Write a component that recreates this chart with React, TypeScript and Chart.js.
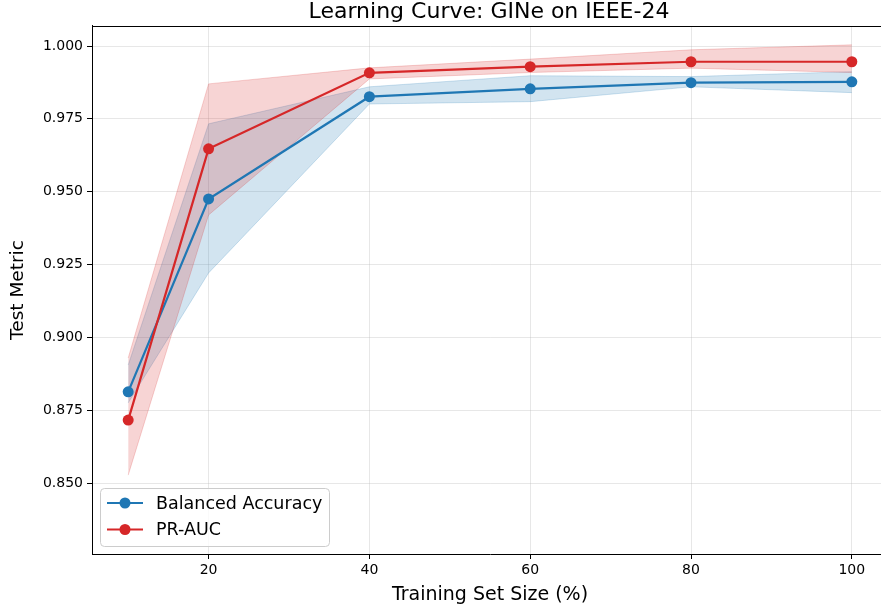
import { useEffect, useRef } from "react";
import { Chart, registerables } from "chart.js";

Chart.register(...registerables);

// Training set fractions (%)
const TRAIN_SIZES = [10, 20, 40, 60, 80, 100];

// Balanced accuracy: mean and band edges
const BAL_ACC_MEAN = [0.8813, 0.9475, 0.9826, 0.9853, 0.9874, 0.9877];
const BAL_ACC_LOW = [0.8775, 0.9221, 0.9801, 0.9809, 0.986, 0.984];
const BAL_ACC_HIGH = [0.8905, 0.9733, 0.986, 0.9898, 0.9895, 0.9912];

// PR-AUC: mean and band edges
const PR_AUC_MEAN = [0.8716, 0.9647, 0.9908, 0.9929, 0.9946, 0.9946];
const PR_AUC_LOW = [0.8527, 0.942, 0.9887, 0.9909, 0.9924, 0.9909];
const PR_AUC_HIGH = [0.8929, 0.987, 0.9925, 0.9955, 0.9987, 1.0004];

const X_TICKS = [20, 40, 60, 80, 100];
const Y_TICKS = [0.85, 0.875, 0.9, 0.925, 0.95, 0.975, 1.0];

const SERIES_NAMES = ["Balanced Accuracy", "PR-AUC"];

const BLUE = "#1f77b4";
const RED = "#d62728";
const BLUE_BAND = "rgba(31,119,180,0.2)";
const RED_BAND = "rgba(214,39,40,0.2)";
const FONT = "'DejaVu Sans', sans-serif";

const toPoints = (ys: number[]) => TRAIN_SIZES.map((x, i) => ({ x, y: ys[i] }));

// Top/right spines around the plotting area
const framePlugin = {
  id: "frame",
  afterDraw(chart: any) {
    const { ctx, chartArea } = chart;
    ctx.save();
    ctx.strokeStyle = "#000";
    ctx.lineWidth = 1;
    ctx.beginPath();
    ctx.moveTo(chartArea.left, chartArea.top + 0.5);
    ctx.lineTo(chartArea.right, chartArea.top + 0.5);
    ctx.moveTo(chartArea.right + 0.5, chartArea.top);
    ctx.lineTo(chartArea.right + 0.5, chartArea.bottom);
    ctx.stroke();
    ctx.restore();
  },
};

// Legend box in the lower-left corner of the plot
const innerLegendPlugin = {
  id: "innerLegend",
  afterDraw(chart: any) {
    const { ctx, chartArea } = chart;
    const x = chartArea.left + 8;
    const w = 229;
    const h = 58;
    const y = chartArea.bottom - 8 - h;
    ctx.save();
    ctx.beginPath();
    ctx.roundRect(x + 0.5, y + 0.5, w, h, 4);
    ctx.fillStyle = "rgba(255,255,255,0.8)";
    ctx.fill();
    ctx.strokeStyle = "#cccccc";
    ctx.lineWidth = 1;
    ctx.stroke();
    const colors = [BLUE, RED];
    SERIES_NAMES.forEach((name, i) => {
      const cy = y + 15 + i * 26.5;
      ctx.strokeStyle = colors[i];
      ctx.lineWidth = 2.2;
      ctx.beginPath();
      ctx.moveTo(x + 7, cy);
      ctx.lineTo(x + 43, cy);
      ctx.stroke();
      ctx.fillStyle = colors[i];
      ctx.beginPath();
      ctx.arc(x + 25, cy, 5.5, 0, Math.PI * 2);
      ctx.fill();
      ctx.fillStyle = "#000";
      ctx.font = `17.5px ${FONT}`;
      ctx.textBaseline = "middle";
      ctx.textAlign = "left";
      ctx.fillText(name, x + 56, cy + 1);
    });
    ctx.restore();
  },
};

export default function App() {
  const canvasRef = useRef<HTMLCanvasElement | null>(null);

  useEffect(() => {
    if (!canvasRef.current) return;
    const bandLine = (color: string) => ({
      borderColor: color,
      borderWidth: 1,
      pointRadius: 0,
      pointHoverRadius: 0,
      tension: 0,
    });
    const meanLine = (color: string) => ({
      borderColor: color,
      backgroundColor: color,
      borderWidth: 2.2,
      pointRadius: 5.5,
      pointBorderWidth: 0,
      fill: false,
      tension: 0,
    });
    const chart = new Chart(canvasRef.current, {
      type: "line",
      data: {
        datasets: [
          { label: "bal-low", data: toPoints(BAL_ACC_LOW), ...bandLine(BLUE_BAND), fill: false, order: 10 },
          {
            label: "bal-high",
            data: toPoints(BAL_ACC_HIGH),
            ...bandLine(BLUE_BAND),
            backgroundColor: BLUE_BAND,
            fill: "-1",
            order: 9,
          },
          { label: "pr-low", data: toPoints(PR_AUC_LOW), ...bandLine(RED_BAND), fill: false, order: 8 },
          {
            label: "pr-high",
            data: toPoints(PR_AUC_HIGH),
            ...bandLine(RED_BAND),
            backgroundColor: RED_BAND,
            fill: "-1",
            order: 7,
          },
          { label: SERIES_NAMES[0], data: toPoints(BAL_ACC_MEAN), ...meanLine(BLUE), order: 2 },
          { label: SERIES_NAMES[1], data: toPoints(PR_AUC_MEAN), ...meanLine(RED), order: 1 },
        ],
      },
      options: {
        animation: false,
        responsive: false,
        devicePixelRatio: 1,
        layout: { padding: 0 },
        plugins: {
          legend: { display: false },
          tooltip: { enabled: false },
          title: {
            display: true,
            text: "Learning Curve: GINe on IEEE-24",
            color: "#000",
            font: { family: FONT, size: 22, weight: "normal", lineHeight: 1.15 },
            padding: { top: 0, bottom: 0.7 },
          },
        },
        scales: {
          x: {
            type: "linear",
            min: 5.5,
            max: 104.5,
            afterBuildTicks: (scale: any) => {
              scale.ticks = X_TICKS.map((v) => ({ value: v }));
            },
            afterFit: (scale: any) => {
              scale.height = 57;
            },
            ticks: {
              color: "#000",
              font: { family: FONT, size: 14 },
              padding: 3,
              maxRotation: 0,
              callback: (v: any) => String(v),
            },
            grid: {
              color: "rgba(176,176,176,0.3)",
              lineWidth: 1,
              tickColor: "#000",
              tickLength: 5,
              tickWidth: 1,
            },
            border: { color: "#000", width: 1 },
            title: {
              display: true,
              text: "Training Set Size (%)",
              color: "#000",
              font: { family: FONT, size: 19, lineHeight: 1.2 },
              padding: { top: 0, bottom: 5 },
            },
          },
          y: {
            type: "linear",
            min: 0.82563,
            max: 1.00687,
            afterBuildTicks: (scale: any) => {
              scale.ticks = Y_TICKS.map((v) => ({ value: v }));
            },
            afterFit: (scale: any) => {
              scale.width = 92;
            },
            ticks: {
              color: "#000",
              font: { family: FONT, size: 14 },
              padding: 4,
              callback: (v: any) => Number(v).toFixed(3),
            },
            grid: {
              color: "rgba(176,176,176,0.3)",
              lineWidth: 1,
              tickColor: "#000",
              tickLength: 5,
              tickWidth: 1,
            },
            border: { color: "#000", width: 1 },
            title: {
              display: true,
              text: "Test Metric",
              color: "#000",
              font: { family: FONT, size: 18.5, lineHeight: 1.2 },
              padding: { top: 7, bottom: 0 },
            },
          },
          // empty right-hand gutter so the title centres over the axes
          gutter: {
            type: "linear",
            position: "right",
            min: 0,
            max: 1,
            display: true,
            afterFit: (scale: any) => {
              scale.width = 90;
            },
            ticks: { display: false },
            grid: { display: false, drawTicks: false },
            border: { display: false },
          },
        },
      },
      plugins: [framePlugin, innerLegendPlugin],
    });
    return () => chart.destroy();
  }, []);

  return (
    <div
      style={{
        position: "fixed",
        left: 0,
        top: 0,
        width: 881,
        height: 611,
        overflow: "hidden",
        background: "#fff",
      }}
    >
      <canvas ref={canvasRef} width={978} height={611} style={{ display: "block" }} />
    </div>
  );
}
